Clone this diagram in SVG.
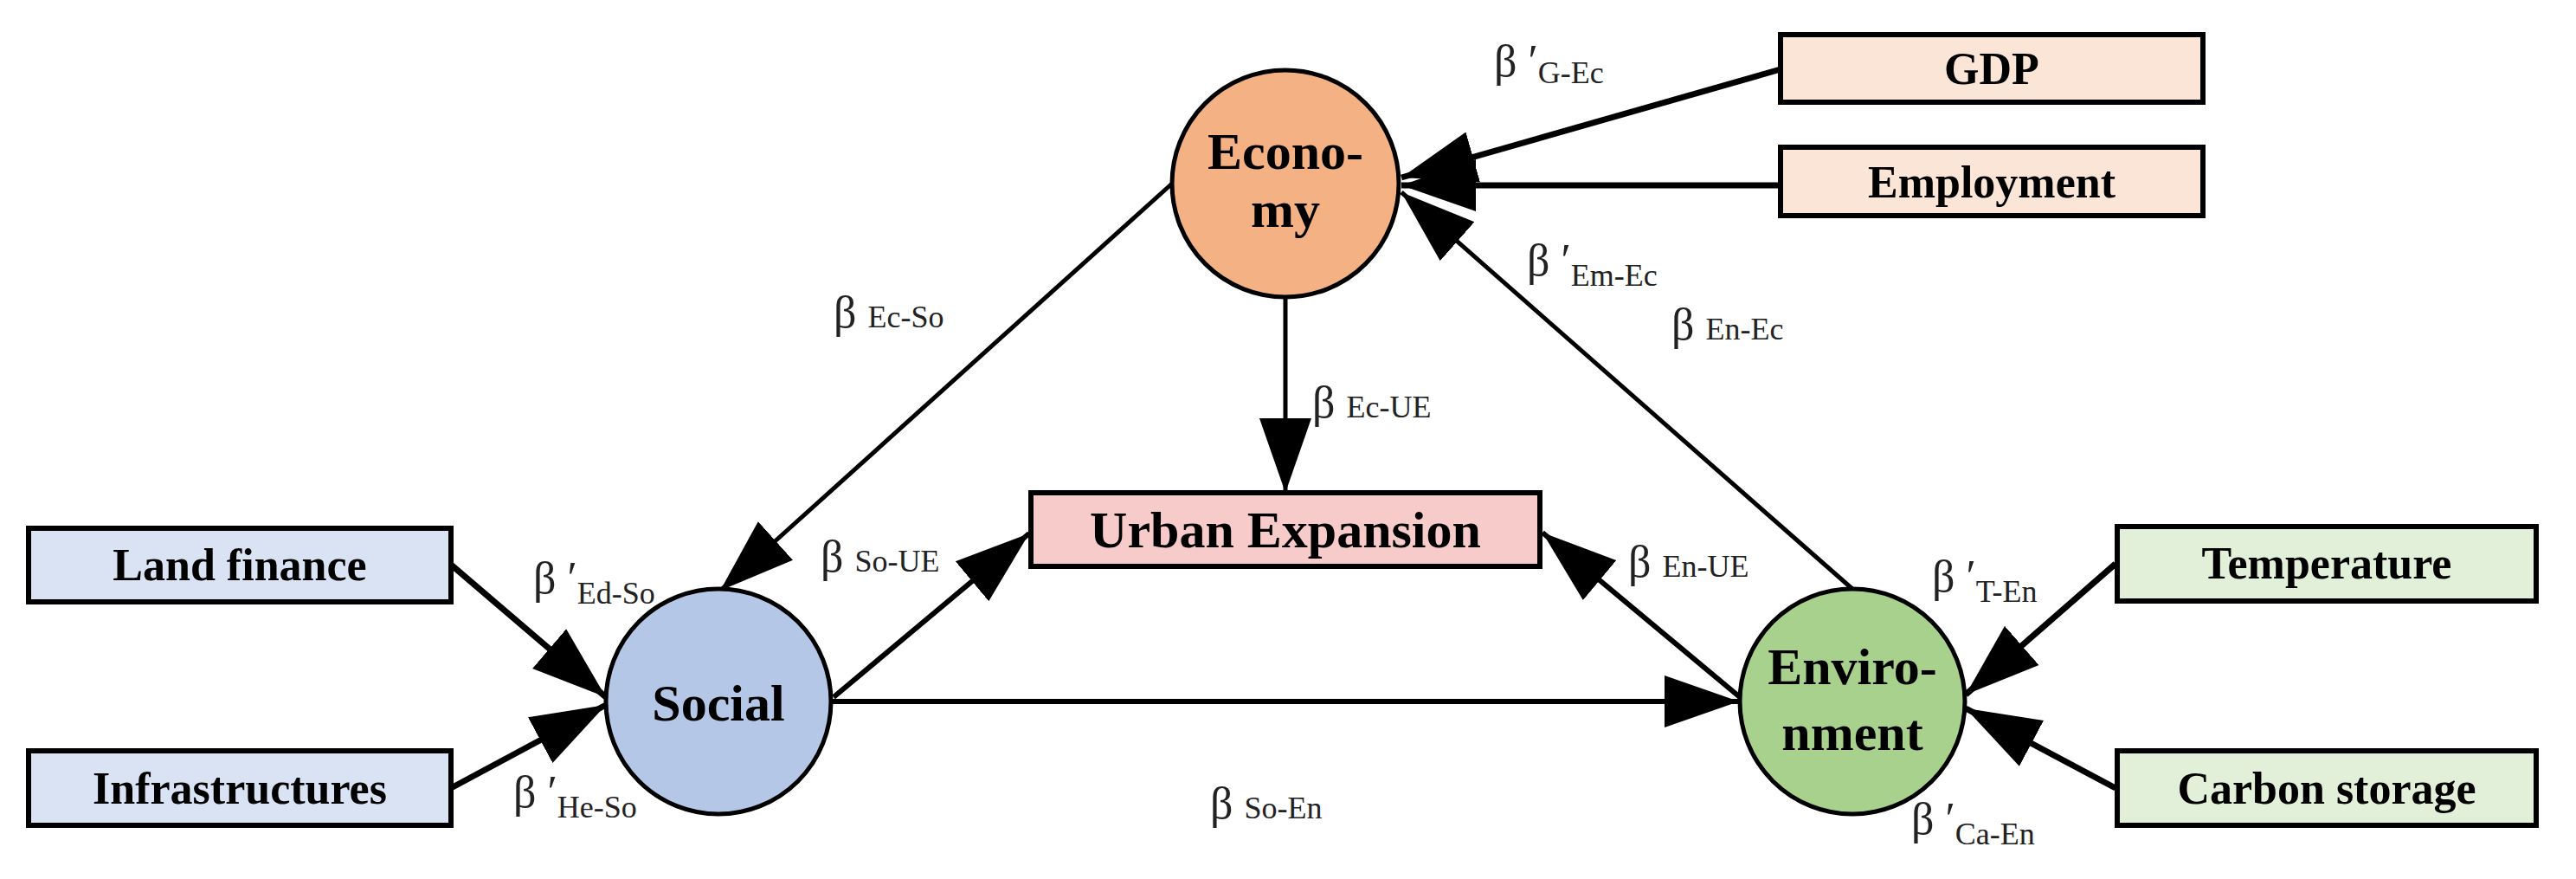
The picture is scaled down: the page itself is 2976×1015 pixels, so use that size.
<svg xmlns="http://www.w3.org/2000/svg" width="2976" height="1015" viewBox="0 0 2976 1015">
<style>
.bx{stroke:#000;stroke-width:6}
.nd{stroke:#000;stroke-width:5}
.lb{font-family:"Liberation Serif",serif;font-weight:bold;font-size:52px;text-anchor:middle;fill:#000}
.nl{font-family:"Liberation Serif",serif;font-weight:bold;font-size:60px;text-anchor:middle;fill:#000}
.cf{font-family:"Liberation Serif",serif;font-size:52px;fill:#222}
.cf tspan.s{font-size:36px}
.e{stroke:#000;fill:none;marker-end:url(#ah)}
</style>
<defs>
<marker id="ah" markerUnits="userSpaceOnUse" viewBox="0 -35 90 70" markerWidth="90" markerHeight="70" refX="86" refY="0" orient="auto">
<path d="M0,-30 L86,0 L0,30 Z" fill="#000"/>
</marker>
</defs>
<rect width="2976" height="1015" fill="#fff"/>
<g id="connectors">
<line class="e" x1="2057" y1="80" x2="1619" y2="205" stroke-width="7"/>
<line class="e" x1="2057" y1="214" x2="1619" y2="214" stroke-width="7"/>
<line class="e" x1="2140" y1="680" x2="1619" y2="222" stroke-width="5"/>
<line class="e" x1="1485" y1="344" x2="1485" y2="569" stroke-width="5"/>
<line class="e" x1="1354" y1="212" x2="832" y2="682" stroke-width="5"/>
<line class="e" x1="963" y1="805" x2="1189" y2="616" stroke-width="6"/>
<line class="e" x1="961" y1="810" x2="2009" y2="810" stroke-width="6"/>
<line class="e" x1="2010" y1="805" x2="1782" y2="615" stroke-width="6"/>
<line class="e" x1="521" y1="652" x2="700" y2="805" stroke-width="7"/>
<line class="e" x1="521" y1="910" x2="700" y2="814" stroke-width="7"/>
<line class="e" x1="2444" y1="651" x2="2271" y2="802" stroke-width="7"/>
<line class="e" x1="2444" y1="910" x2="2271" y2="818" stroke-width="7"/>
</g>
<g id="economy"><circle class="nd" cx="1485" cy="212" r="131" fill="#F4B183"/>
<text class="nl" x="1485" y="195">Econo-</text><text class="nl" x="1485" y="262">my</text></g>
<g id="social"><circle class="nd" cx="830" cy="810" r="130" fill="#B4C7E7"/>
<text class="nl" x="830" y="832">Social</text></g>
<g id="environment"><circle class="nd" cx="2140" cy="810" r="130" fill="#A9D18E"/>
<text class="nl" x="2140" y="790">Enviro-</text><text class="nl" x="2140" y="866">nment</text></g>
<g id="urban"><rect class="bx" x="1191" y="569" width="588" height="85" fill="#F8CBCB"/>
<text class="nl" x="1485" y="632">Urban Expansion</text></g>
<g id="gdp"><rect class="bx" x="2057" y="40" width="488" height="78" fill="#FBE5D6"/><text class="lb" x="2301" y="97">GDP</text></g>
<g id="employment"><rect class="bx" x="2057" y="170" width="488" height="79" fill="#FBE5D6"/><text class="lb" x="2301" y="228">Employment</text></g>
<g id="landfinance"><rect class="bx" x="33" y="610" width="488" height="85" fill="#DAE3F3"/><text class="lb" x="277" y="670">Land finance</text></g>
<g id="infrastructures"><rect class="bx" x="33" y="867" width="488" height="86" fill="#DAE3F3"/><text class="lb" x="277" y="928">Infrastructures</text></g>
<g id="temperature"><rect class="bx" x="2446" y="608" width="484" height="86" fill="#E2F0D9"/><text class="lb" x="2688" y="668">Temperature</text></g>
<g id="carbon"><rect class="bx" x="2446" y="867" width="484" height="86" fill="#E2F0D9"/><text class="lb" x="2688" y="928">Carbon storage</text></g>
<g id="labels">
<text class="cf" x="1726" y="88">β ′<tspan class="s" dy="8">G-Ec</tspan></text>
<text class="cf" x="1764" y="318">β ′<tspan class="s" dy="12">Em-Ec</tspan></text>
<text class="cf" x="1931" y="392">β <tspan class="s">En-Ec</tspan></text>
<text class="cf" x="1516" y="482">β <tspan class="s">Ec-UE</tspan></text>
<text class="cf" x="963" y="378">β <tspan class="s">Ec-So</tspan></text>
<text class="cf" x="948" y="660">β <tspan class="s">So-UE</tspan></text>
<text class="cf" x="616" y="685">β ′<tspan class="s" dy="12">Ed-So</tspan></text>
<text class="cf" x="593" y="932">β ′<tspan class="s" dy="12">He-So</tspan></text>
<text class="cf" x="1398" y="945">β <tspan class="s">So-En</tspan></text>
<text class="cf" x="1881" y="666">β <tspan class="s">En-UE</tspan></text>
<text class="cf" x="2232" y="683">β ′<tspan class="s" dy="12">T-En</tspan></text>
<text class="cf" x="2208" y="963">β ′<tspan class="s" dy="12">Ca-En</tspan></text>
</g>
</svg>
